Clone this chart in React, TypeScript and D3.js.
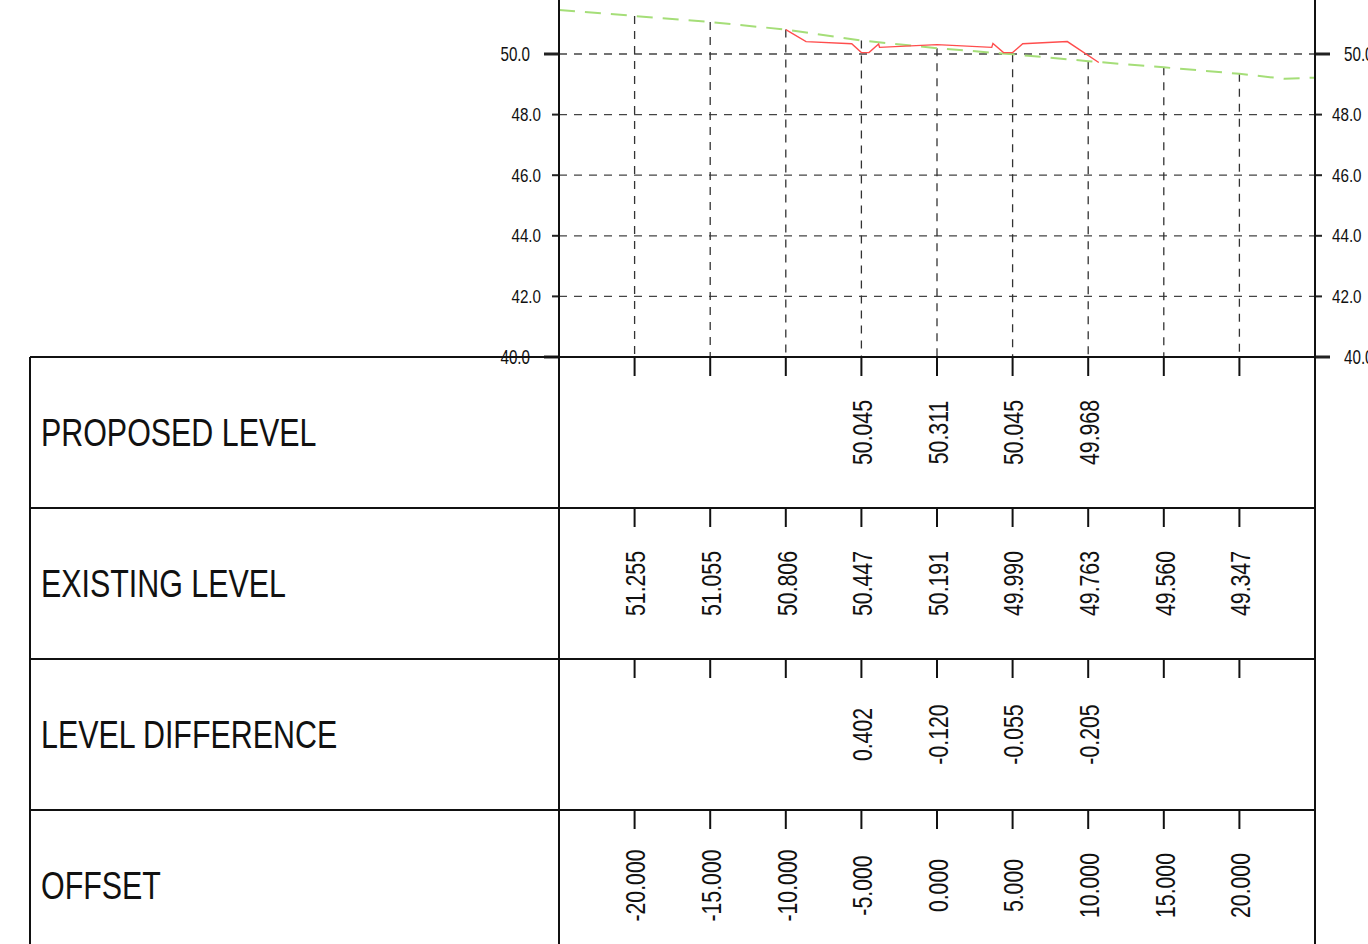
import React, { useRef, useEffect } from 'react';
import * as d3 from 'd3';

// stations along the section
const offsets = [-20, -15, -10, -5, 0, 5, 10, 15, 20];
const existingLevels = [51.255, 51.055, 50.806, 50.447, 50.191, 49.990, 49.763, 49.560, 49.347];
const proposedOffsets = [-5, 0, 5, 10];
const proposedLevels = [50.045, 50.311, 50.045, 49.968];

// ground line (green) and design line (red)
const groundOffsets = [-25, -20, -15, -10, -5, 0, 5, 10, 15, 20, 23, 25];
const groundLevels = [51.45, 51.255, 51.055, 50.806, 50.447, 50.191, 49.990, 49.763, 49.560, 49.347, 49.18, 49.22];
const designOffsets = [-10, -8.66, -5.64, -5, -4.5, -3.86, -3.8, 0, 3.62, 3.7, 4.4, 5, 5.67, 8.62, 10.7];
const designLevels = [50.806, 50.41, 50.34, 50.045, 50.045, 50.33, 50.22, 50.311, 50.22, 50.35, 50.045, 50.045, 50.34, 50.41, 49.72];

const levelTicks = [40, 42, 44, 46, 48, 50, 52];
const rowLabels = ['PROPOSED LEVEL', 'EXISTING LEVEL', 'LEVEL DIFFERENCE', 'OFFSET'];

const W = 1368;
const H = 944;
const FONT = '"Liberation Sans", Arial, sans-serif';

const SectionChart: React.FC = () => {
  const ref = useRef<SVGSVGElement>(null);

  useEffect(() => {
    if (!ref.current) return;
    const svg = d3.select(ref.current);
    svg.selectAll('*').remove();

    const left = 559, right = 1315, tableLeft = 30;
    const rowTop = 357, rowH = 151;

    const x = d3.scaleLinear().domain([-25, 25]).range([left, right]);
    const y = d3.scaleLinear().domain([40, 52]).range([rowTop, rowTop - 12 * 30.3]);

    // horizontal grid
    svg.append('g').selectAll('line')
      .data(levelTicks.filter(v => v > 40 && v < 52))
      .join('line')
      .attr('x1', left).attr('x2', right)
      .attr('y1', d => y(d)).attr('y2', d => y(d))
      .attr('stroke', '#444').attr('stroke-width', 1.3)
      .attr('stroke-dasharray', '8,7');

    // vertical grid from ground down to datum
    const groundAt = (o: number) => existingLevels[offsets.indexOf(o)];
    svg.append('g').selectAll('line')
      .data(offsets)
      .join('line')
      .attr('x1', d => x(d)).attr('x2', d => x(d))
      .attr('y1', d => y(groundAt(d))).attr('y2', rowTop)
      .attr('stroke', '#333').attr('stroke-width', 1.3)
      .attr('stroke-dasharray', '8,7');

    // ground line
    const line = d3.line<[number, number]>().x(d => x(d[0])).y(d => y(d[1]));
    svg.append('path')
      .datum(groundOffsets.map((o, i) => [o, groundLevels[i]] as [number, number]))
      .attr('fill', 'none').attr('stroke', '#a5de78').attr('stroke-width', 2)
      .attr('stroke-dasharray', '16,10')
      .attr('d', line);

    // design line
    svg.append('path')
      .datum(designOffsets.map((o, i) => [o, designLevels[i]] as [number, number]))
      .attr('fill', 'none').attr('stroke', '#ff4d4d').attr('stroke-width', 1.4)
      .attr('d', line);

    // level axes, both sides
    const axis = svg.append('g');
    levelTicks.forEach(v => {
      const major = v % 10 === 0;
      const len = major ? 15 : 7;
      const yy = y(v);
      axis.append('line').attr('x1', left - len).attr('x2', left).attr('y1', yy).attr('y2', yy)
        .attr('stroke', '#222').attr('stroke-width', major ? 3 : 2);
      axis.append('line').attr('x1', right).attr('x2', right + len).attr('y1', yy).attr('y2', yy)
        .attr('stroke', '#222').attr('stroke-width', major ? 3 : 2);
      const fs = major ? 20 : 19;
      const sx = major ? 0.76 : 0.8;
      const lbl = v.toFixed(1);
      axis.append('text')
        .attr('transform', `translate(${left - len - (major ? 14 : 11)},${yy}) scale(${sx},1)`)
        .attr('text-anchor', 'end').attr('dy', '0.35em')
        .attr('font-family', FONT).attr('font-size', fs).attr('fill', '#111')
        .text(lbl);
      axis.append('text')
        .attr('transform', `translate(${right + len + (major ? 14 : 10)},${yy}) scale(${sx},1)`)
        .attr('text-anchor', 'start').attr('dy', '0.35em')
        .attr('font-family', FONT).attr('font-size', fs).attr('fill', '#111')
        .text(lbl);
    });

    // table
    const table = svg.append('g');
    const rowCount = rowLabels.length;
    for (let r = 0; r <= rowCount; r++) {
      table.append('line')
        .attr('x1', tableLeft).attr('x2', right)
        .attr('y1', rowTop + r * rowH).attr('y2', rowTop + r * rowH)
        .attr('stroke', '#111').attr('stroke-width', 2);
    }
    [[tableLeft, rowTop], [left, 0], [right, 0]].forEach(([lx, top]) => {
      table.append('line')
        .attr('x1', lx).attr('x2', lx).attr('y1', top).attr('y2', rowTop + rowCount * rowH)
        .attr('stroke', '#111').attr('stroke-width', 2);
    });

    const fmt = (v: number) => v.toFixed(3);
    const diffs = proposedOffsets.map((o, i) => existingLevels[offsets.indexOf(o)] - proposedLevels[i]);
    const rowValues: [number, string][][] = [
      proposedOffsets.map((o, i) => [o, fmt(proposedLevels[i])]),
      offsets.map((o, i) => [o, fmt(existingLevels[i])]),
      proposedOffsets.map((o, i) => [o, fmt(diffs[i])]),
      offsets.map(o => [o, fmt(o)]),
    ];

    rowLabels.forEach((label, r) => {
      const top = rowTop + r * rowH;
      const cy = top + rowH / 2;
      table.append('text')
        .attr('transform', `translate(41,${cy + 13.5}) scale(0.8,1)`)
        .attr('font-family', FONT).attr('font-size', 38).attr('fill', '#111')
        .text(label);
      offsets.forEach(o => {
        table.append('line')
          .attr('x1', x(o)).attr('x2', x(o)).attr('y1', top).attr('y2', top + 19)
          .attr('stroke', '#111').attr('stroke-width', 2);
      });
      rowValues[r].forEach(([o, t]) => {
        table.append('text')
          .attr('transform', `translate(${x(o) + 1},${cy}) rotate(-90) scale(0.76,1)`)
          .attr('text-anchor', 'middle').attr('dy', '0.35em')
          .attr('font-family', FONT).attr('font-size', 28).attr('fill', '#111')
          .text(t);
      });
    });
  }, []);

  return (
    <svg ref={ref} width={W} height={H} viewBox={`0 0 ${W} ${H}`}
      style={{ position: 'absolute', left: 0, top: 0, background: '#fff' }} />
  );
};

export default function App() {
  return <SectionChart />;
}
